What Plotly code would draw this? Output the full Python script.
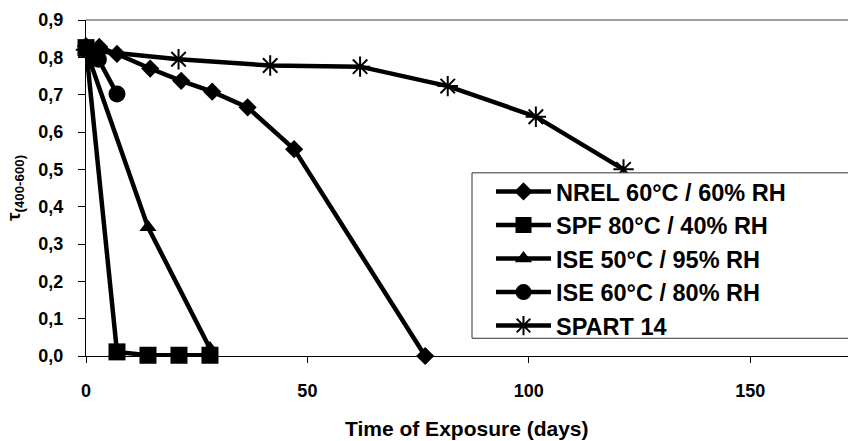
import plotly.graph_objects as go

# ---- data ----
nrel_x = [0, 3, 7, 14.5, 21.5, 28.5, 36.5, 47, 76.6]
nrel_y = [0.83, 0.828, 0.809, 0.770, 0.737, 0.708, 0.666, 0.554, 0.0]

spf_x = [0, 7, 14, 21, 28]
spf_y = [0.826, 0.011, 0.002, 0.002, 0.002]

ise50_x = [0, 14, 28]
ise50_y = [0.82, 0.345, 0.02]

ise60_x = [0, 2.8, 7]
ise60_y = [0.82, 0.795, 0.702]

spart_x = [0, 20.9, 41.6, 61.9, 81.7, 101.6, 121.4]
spart_y = [0.82, 0.795, 0.778, 0.775, 0.723, 0.641, 0.50]

names = ["NREL 60°C / 60% RH", "SPF 80°C / 40% RH", "ISE 50°C / 95% RH",
         "ISE 60°C / 80% RH", "SPART 14"]

x_ticks = [0, 50, 100, 150]
x_tick_labels = ["0", "50", "100", "150"]
y_ticks = [0.0, 0.1, 0.2, 0.3, 0.4, 0.5, 0.6, 0.7, 0.8, 0.9]
y_tick_labels = ["0,0", "0,1", "0,2", "0,3", "0,4", "0,5", "0,6", "0,7", "0,8", "0,9"]

FONT = "Liberation Sans, Arial, sans-serif"
LW = 4.5

fig = go.Figure()
series = [
    (nrel_x, nrel_y, dict(symbol="diamond", size=14, color="black")),
    (spf_x, spf_y, dict(symbol="square", size=17, color="black")),
    (ise50_x, ise50_y, dict(symbol="triangle-up", size=15, color="black")),
    (ise60_x, ise60_y, dict(symbol="circle", size=17, color="black")),
    (spart_x, spart_y, dict(symbol="asterisk-open", size=17, color="black",
                            line=dict(color="black", width=2))),
]
for (xs, ys, mk), nm in zip(series, names):
    fig.add_trace(go.Scatter(x=xs, y=ys, mode="lines+markers", name=nm,
                             line=dict(color="black", width=LW), marker=mk,
                             cliponaxis=False))

fig.update_layout(
    width=848, height=441,
    margin=dict(l=86, r=0, t=20, b=85, autoexpand=False),
    paper_bgcolor="white", plot_bgcolor="white",
    font=dict(family=FONT, size=18, color="black"),
    showlegend=True,
    legend=dict(x=0.5315, y=0.5547, xanchor="left", yanchor="top",
                borderwidth=0, bgcolor="rgba(0,0,0,0)",
                font=dict(family=FONT, size=23.5, color="black", weight="bold"),
                itemwidth=55, tracegroupgap=0),
    xaxis=dict(range=[0, 172.1], tickvals=x_ticks, ticktext=[f"<b>{t}</b>" for t in x_tick_labels],
               showgrid=False, zeroline=False, automargin=False,
               showline=True, linecolor="black", linewidth=1,
               ticks="outside", ticklen=6, tickcolor="black",
               tickfont=dict(family=FONT, size=18, weight="bold"),
               ticklabelstandoff=12),
    yaxis=dict(range=[0, 0.9], tickvals=y_ticks, ticktext=[f"<b>{t}</b>" for t in y_tick_labels],
               showgrid=False, zeroline=False, automargin=False,
               showline=True, linecolor="black", linewidth=1,
               ticks="outside", ticklen=7, tickcolor="black",
               tickfont=dict(family=FONT, size=18, weight="bold"),
               ticklabelstandoff=11),
    shapes=[
        dict(type="line", xref="paper", yref="paper", x0=0, x1=1, y0=1, y1=1,
             line=dict(color="#808080", width=1.5)),
        dict(type="rect", xref="paper", yref="paper", layer="above",
             x0=(472 - 86) / 762, x1=1.05,
             y0=(355.7 - 338) / 335.7, y1=(355.7 - 172.7) / 335.7,
             fillcolor="white", line=dict(color="#333333", width=1)),
    ],
    annotations=[
        dict(text="<b>τ<sub>(400-600)</sub></b>", textangle=-90,
             xref="paper", yref="paper", x=0, y=0.5, xanchor="center",
             yanchor="middle", xshift=-71, showarrow=False,
             font=dict(family=FONT, size=19, color="black")),
        dict(text="<b>Time of Exposure (days)</b>",
             xref="paper", yref="paper", x=0.5, y=0, xanchor="center",
             yanchor="middle", yshift=-72, showarrow=False,
             font=dict(family=FONT, size=21, color="black")),
    ],
)

fig.write_html("out.html", config={"displayModeBar": False},
               post_script="document.body.style.margin='0';document.body.style.padding='0';")
